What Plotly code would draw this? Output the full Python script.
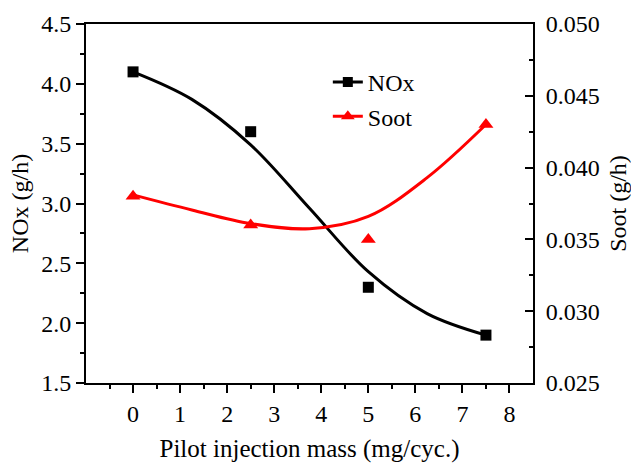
import numpy as np
import plotly.graph_objects as go

# Measured data
mass = [0, 2.5, 5, 7.5]                   # Pilot injection mass (mg/cyc.)
nox = [4.1, 3.6, 2.3, 1.9]                # NOx (g/h)
soot = [0.038, 0.036, 0.035, 0.043]       # Soot (g/h)

# Smoothed trend curves
mass_fit = [0, 1.25, 2.5, 3.75, 5, 6.25, 7.5]
nox_fit = [4.1, 3.87, 3.49, 2.96, 2.43, 2.08, 1.9]
soot_fit = [0.0381, 0.03705, 0.0361, 0.03575, 0.0366, 0.0393, 0.0430]

x_ticks = [0, 1, 2, 3, 4, 5, 6, 7, 8]

FONT = "Liberation Serif"
FS = 24
BLACK = "#000000"
RED = "#FF0000"

fig = go.Figure()

# trend lines
fig.add_trace(go.Scatter(x=mass_fit, y=nox_fit, mode="lines",
                         line=dict(color=BLACK, width=3, shape="spline", smoothing=1.0),
                         showlegend=False, hoverinfo="skip"))
fig.add_trace(go.Scatter(x=mass_fit, y=soot_fit, mode="lines", yaxis="y2",
                         line=dict(color=RED, width=3, shape="spline", smoothing=1.0),
                         showlegend=False, hoverinfo="skip"))
# data markers
fig.add_trace(go.Scatter(x=mass, y=nox, mode="markers",
                         marker=dict(symbol="square", size=11, color=BLACK),
                         showlegend=False))
fig.add_trace(go.Scatter(x=mass, y=soot, mode="markers", yaxis="y2",
                         marker=dict(symbol="triangle-up", size=13, color=RED),
                         showlegend=False))
# legend entries
fig.add_trace(go.Scatter(x=[None], y=[None], mode="lines+markers", name="NOx",
                         line=dict(color=BLACK, width=3),
                         marker=dict(symbol="square", size=10, color=BLACK)))
fig.add_trace(go.Scatter(x=[None], y=[None], mode="lines+markers", name="Soot", yaxis="y2",
                         line=dict(color=RED, width=3),
                         marker=dict(symbol="triangle-up", size=12, color=RED)))

minor_x = list(np.arange(-0.5, 8.0, 1.0))

fig.update_layout(
    width=631, height=463,
    margin=dict(l=86, r=98, t=24, b=80, autoexpand=False),
    paper_bgcolor="white", plot_bgcolor="white",
    font=dict(family=FONT, size=FS, color=BLACK),
    xaxis=dict(
        range=[-1, 8.5], tickmode="array", tickvals=x_ticks, automargin=False,
        ticks="outside", ticklen=8, tickwidth=2, tickcolor=BLACK,
        showline=True, linewidth=2, linecolor=BLACK, mirror=True,
        showgrid=False, zeroline=False,
        minor=dict(tickmode="array", tickvals=minor_x, ticks="outside", ticklen=4,
                   tickwidth=2, tickcolor=BLACK, showgrid=False),
        title=dict(text="Pilot injection mass (mg/cyc.)", font=dict(size=25), standoff=14),
        tickfont=dict(size=FS),
    ),
    yaxis=dict(
        range=[1.5, 4.5], dtick=0.5, tick0=1.5, tickformat=".1f", automargin=False,
        ticks="outside", ticklen=8, tickwidth=2, tickcolor=BLACK,
        showline=True, linewidth=2, linecolor=BLACK,
        showgrid=False, zeroline=False,
        minor=dict(dtick=0.25, ticks="outside", ticklen=4, tickwidth=2,
                   tickcolor=BLACK, showgrid=False),
        title=dict(text="NOx (g/h)", font=dict(size=FS), standoff=6),
        tickfont=dict(size=FS),
    ),
    yaxis2=dict(
        range=[0.025, 0.050], dtick=0.005, tick0=0.025, tickformat=".3f", automargin=False,
        overlaying="y", side="right",
        ticks="inside", ticklen=8, tickwidth=2, tickcolor=BLACK,
        showline=True, linewidth=2, linecolor=BLACK,
        showgrid=False, zeroline=False,
        minor=dict(dtick=0.0025, ticks="inside", ticklen=4, tickwidth=2,
                   tickcolor=BLACK, showgrid=False),
        title=dict(text="Soot (g/h)", font=dict(size=FS), standoff=12),
        tickfont=dict(size=FS),
        ticklabelstandoff=6,
    ),
    legend=dict(x=0.541, y=0.90, xanchor="left", yanchor="top",
                bgcolor="rgba(0,0,0,0)", borderwidth=0,
                font=dict(family=FONT, size=24), itemwidth=30, tracegroupgap=0),
    showlegend=True,
)

fig.write_html("out.html")
